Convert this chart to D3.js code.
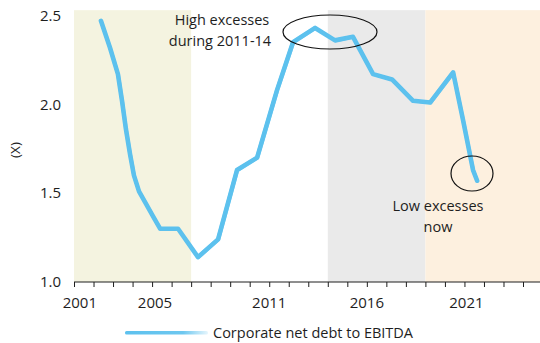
<!DOCTYPE html>
<html>
<head>
<meta charset="utf-8">
<script src="https://cdn.jsdelivr.net/npm/d3@7"></script>
<style>
  html, body { margin: 0; padding: 0; background: #fff; }
  svg { display: block; font-family: "Open Sans", "Noto Sans", sans-serif; }
  text { fill: #1e1e1e; }
</style>
</head>
<body>
<svg id="chart" width="540" height="343"></svg>
<script>
// Corporate net debt to EBITDA, multiple (X), by decimal year
const years = [2002.38, 2002.84, 2003.25, 2003.46, 2003.66, 2003.87, 2004.07, 2004.33, 2004.64,
               2005.05, 2005.41, 2006.33, 2007.35, 2008.38, 2009.35, 2010.38, 2011.40, 2012.22,
               2013.35, 2014.37, 2015.29, 2016.32, 2017.29, 2018.37, 2019.24, 2020.42, 2020.93,
               2021.44, 2021.65];
const debtToEbitda = [2.47, 2.32, 2.17, 2.02, 1.86, 1.72, 1.60, 1.51, 1.45,
                      1.37, 1.30, 1.30, 1.14, 1.24, 1.63, 1.70, 2.08, 2.35,
                      2.43, 2.36, 2.38, 2.17, 2.14, 2.02, 2.01, 2.18, 1.91,
                      1.63, 1.57];

// Shaded periods
const periodStart = [2001, 2014, 2019];
const periodEnd = [2007, 2019, 2024.87];
const periodColor = ["#F4F3E0", "#EAEAEA", "#FDF0DF"];

// Axis labels
const yTicks = [1.0, 1.5, 2.0, 2.5];
const xTickYears = d3.range(2001, 2025);
const xLabelText = ["2001", "2005", "2011", "2016", "2021"];
const xLabelAt = [2001.3, 2005.15, 2011, 2016, 2021.1];

const seriesName = "Corporate net debt to EBITDA";
const lineColor = "#5DC1EE";

const svg = d3.select("#chart");
const x = d3.scaleLinear().domain([2001, 2024.87]).range([74, 540]);
const y = d3.scaleLinear().domain([1.0, 2.5]).range([282, 15.5]);
const yTop = 2.53;

// Background periods
svg.append("g").selectAll("rect")
  .data(periodStart.map((s, i) => ({ s, e: periodEnd[i], c: periodColor[i] })))
  .join("rect")
  .attr("x", d => x(d.s))
  .attr("width", d => x(d.e) - x(d.s))
  .attr("y", y(yTop))
  .attr("height", y(1.0) - y(yTop))
  .attr("fill", d => d.c);

// X axis: yearly ticks, selected labels
const xAxis = d3.axisBottom(x).tickValues(xTickYears).tickSize(5).tickFormat("");
const gx = svg.append("g").attr("transform", `translate(0,${y(1.0)})`).call(xAxis);
gx.select(".domain").attr("stroke", "#1e1e1e").attr("d", `M${x(2001)},0H540`);
gx.selectAll(".tick line").attr("stroke", "#1e1e1e");

svg.append("g").selectAll("text")
  .data(xLabelText)
  .join("text")
  .attr("x", (d, i) => x(xLabelAt[i]))
  .attr("y", 308)
  .attr("text-anchor", "middle")
  .attr("font-size", 15)
  .text(d => d);

// Y axis labels only
const yAxis = d3.axisLeft(y).tickValues(yTicks).tickSize(0).tickPadding(0).tickFormat(d3.format(".1f"));
const gy = svg.append("g").attr("transform", "translate(61,0)").call(yAxis);
gy.select(".domain").remove();
gy.selectAll("text").attr("font-size", 15).attr("font-family", "\"Open Sans\", sans-serif").attr("fill", "#1e1e1e");

svg.append("text")
  .attr("transform", "translate(15,150) rotate(-90)")
  .attr("text-anchor", "middle")
  .attr("dominant-baseline", "central")
  .attr("font-size", 13.5)
  .text("(X)");

// Sketch-style line: several slightly offset strokes
const pts = years.map((yr, i) => [yr, debtToEbitda[i]]);
const line = d3.line().x(d => x(d[0])).y(d => y(d[1]));
const strokes = [
  { dx: 0, dy: 0, w: 4.6, o: 1 },
  { dx: 0.8, dy: 0.6, w: 2.4, o: 0.75 },
  { dx: -0.7, dy: -0.5, w: 2.2, o: 0.75 },
  { dx: 0.4, dy: -0.9, w: 1.2, o: 0.55 }
];
svg.append("g").selectAll("path")
  .data(strokes)
  .join("path")
  .attr("d", line(pts))
  .attr("transform", s => `translate(${s.dx},${s.dy})`)
  .attr("fill", "none")
  .attr("stroke", lineColor)
  .attr("stroke-width", s => s.w)
  .attr("stroke-opacity", s => s.o)
  .attr("stroke-linejoin", "round")
  .attr("stroke-linecap", "round");

// Annotations
const ann = svg.append("g").attr("font-size", 14.5).attr("text-anchor", "middle");
ann.append("text").attr("x", 222).attr("y", 25).text("High excesses");
ann.append("text").attr("x", 220).attr("y", 46).text("during 2011-14");
ann.append("text").attr("x", 438).attr("y", 211).text("Low excesses");
ann.append("text").attr("x", 438).attr("y", 232).text("now");

svg.append("ellipse").attr("cx", 330).attr("cy", 32).attr("rx", 47).attr("ry", 17)
  .attr("fill", "none").attr("stroke", "#111").attr("stroke-width", 1.2);
svg.append("ellipse").attr("cx", 472).attr("cy", 173.5).attr("rx", 21).attr("ry", 17.5)
  .attr("fill", "none").attr("stroke", "#111").attr("stroke-width", 1.2);

// Legend
const legendGrad = svg.append("defs").append("linearGradient").attr("id", "legendFade");
legendGrad.append("stop").attr("offset", "0%").attr("stop-color", lineColor).attr("stop-opacity", 1);
legendGrad.append("stop").attr("offset", "70%").attr("stop-color", lineColor).attr("stop-opacity", 0.9);
legendGrad.append("stop").attr("offset", "100%").attr("stop-color", lineColor).attr("stop-opacity", 0.15);
svg.append("rect").attr("x", 125).attr("y", 331).attr("width", 83).attr("height", 3.5)
  .attr("rx", 1.5).attr("fill", "url(#legendFade)");
svg.append("text").attr("x", 213).attr("y", 338).attr("font-size", 14.5).text(seriesName);
</script>
</body>
</html>
